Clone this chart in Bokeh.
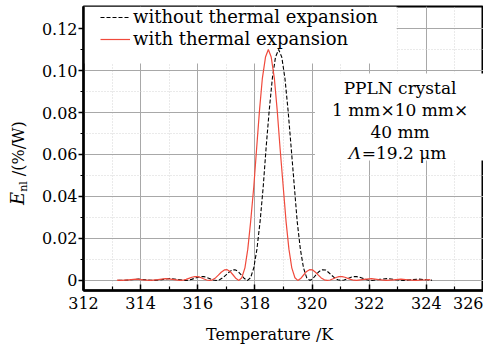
from bokeh.plotting import figure
from bokeh.models import (FixedTicker, Range1d, Legend, LegendItem, Label,
                          BoxAnnotation, CustomJSTickFormatter, Div)
from bokeh.layouts import row, column
from bokeh.embed import file_html
from bokeh.resources import INLINE

# ---------------- data ----------------
temp_with = [313.17, 313.32, 313.58, 313.84, 314.09, 314.35, 314.61, 314.87, 315.12, 315.38,
             315.48, 315.59, 315.69, 315.79, 315.90, 316.00, 316.10, 316.20, 316.31, 316.41,
             316.51, 316.62, 316.72, 316.82, 316.93, 317.03, 317.13, 317.23, 317.34, 317.44,
             317.54, 317.65, 317.75, 317.85, 317.96, 318.06, 318.16, 318.26, 318.37, 318.47,
             318.57, 318.68, 318.78, 318.88, 318.99, 319.09, 319.19, 319.29, 319.40, 319.50,
             319.60, 319.71, 319.81, 319.91, 320.02, 320.12, 320.22, 320.32, 320.43, 320.53,
             320.63, 320.74, 320.84, 320.94, 321.05, 321.15, 321.25, 321.35, 321.46, 321.56,
             321.82, 322.08, 322.33, 322.59, 322.85, 323.11, 323.36, 323.62, 323.88, 324.14]
eff_with = [0.0001, 0.0000, 0.0003, 0.0006, 0.0003, 0.0000, 0.0004, 0.0009, 0.0005, 0.0000,
            0.0001, 0.0005, 0.0010, 0.0015, 0.0018, 0.0018, 0.0014, 0.0008, 0.0002, 0.0000,
            0.0003, 0.0012, 0.0025, 0.0039, 0.0050, 0.0051, 0.0043, 0.0027, 0.0009, 0.0000,
            0.0013, 0.0060, 0.0149, 0.0280, 0.0446, 0.0630, 0.0810, 0.0963, 0.1064, 0.1100,
            0.1064, 0.0963, 0.0810, 0.0630, 0.0446, 0.0280, 0.0149, 0.0060, 0.0013, 0.0000,
            0.0009, 0.0027, 0.0043, 0.0051, 0.0050, 0.0039, 0.0025, 0.0012, 0.0003, 0.0000,
            0.0002, 0.0008, 0.0014, 0.0018, 0.0018, 0.0015, 0.0010, 0.0005, 0.0001, 0.0000,
            0.0005, 0.0009, 0.0004, 0.0000, 0.0003, 0.0006, 0.0003, 0.0000, 0.0002, 0.0004]

temp_without = [313.22, 313.38, 313.65, 313.93, 314.20, 314.47, 314.74, 315.02, 315.29, 315.56,
                315.67, 315.78, 315.89, 316.00, 316.11, 316.21, 316.32, 316.43, 316.54, 316.65,
                316.76, 316.87, 316.98, 317.09, 317.20, 317.30, 317.41, 317.52, 317.63, 317.74,
                317.85, 317.96, 318.07, 318.18, 318.29, 318.39, 318.50, 318.61, 318.72, 318.83,
                318.94, 319.05, 319.16, 319.27, 319.38, 319.48, 319.59, 319.70, 319.81, 319.92,
                320.03, 320.14, 320.25, 320.36, 320.47, 320.57, 320.68, 320.79, 320.90, 321.01,
                321.12, 321.23, 321.34, 321.45, 321.56, 321.66, 321.77, 321.88, 321.99, 322.10,
                322.37, 322.65, 322.92, 323.19, 323.46, 323.74, 324.01, 324.20]
eff_without = [0.0001, 0.0000, 0.0003, 0.0006, 0.0003, 0.0000, 0.0004, 0.0009, 0.0005, 0.0000,
               0.0001, 0.0005, 0.0010, 0.0015, 0.0018, 0.0018, 0.0014, 0.0008, 0.0002, 0.0000,
               0.0003, 0.0012, 0.0025, 0.0039, 0.0050, 0.0051, 0.0043, 0.0027, 0.0009, 0.0000,
               0.0013, 0.0060, 0.0149, 0.0280, 0.0446, 0.0630, 0.0810, 0.0963, 0.1064, 0.1100,
               0.1064, 0.0963, 0.0810, 0.0630, 0.0446, 0.0280, 0.0149, 0.0060, 0.0013, 0.0000,
               0.0009, 0.0027, 0.0043, 0.0051, 0.0050, 0.0039, 0.0025, 0.0012, 0.0003, 0.0000,
               0.0002, 0.0008, 0.0014, 0.0018, 0.0018, 0.0015, 0.0010, 0.0005, 0.0001, 0.0000,
               0.0005, 0.0009, 0.0004, 0.0000, 0.0003, 0.0006, 0.0003, 0.0001]

x_ticks = [312, 314, 316, 318, 320, 322, 324, 326]
x_minor = [313, 315, 317, 319, 321, 323, 325]
y_ticks = [0, 0.02, 0.04, 0.06, 0.08, 0.10, 0.12]
y_minor = [0.01, 0.03, 0.05, 0.07, 0.09, 0.11]

label_without = "without thermal expansion"
label_with = "with thermal expansion"
note_lines = ["PPLN crystal", "1 mm×10 mm×", "40 mm"]
note_lambda = "Λ"
note_lambda_rest = "=19.2 μm"
x_title = "Temperature /K"
y_title_main = "E"
y_title_sub = "nl"
y_title_unit = "/(%/W)"

FONT = "DejaVu Serif"
RED = "#f04a3c"
H1 = 319   # height of the plot row
H2 = 26    # height of the x-title strip

# ---------------- y-axis title (HTML, rotated) ----------------
ylab_html = (
    '<span style="display:inline-block; white-space:nowrap; line-height:1; '
    'transform-origin:0 0; transform:translate(9px, 205px) rotate(-90deg); '
    'font-family:\'DejaVu Serif\'; font-size:16px; color:black;">'
    '<i style="font-size:18px;">' + y_title_main + '</i>'
    '<sub style="font-size:11px; vertical-align:-3px;">' + y_title_sub + '</sub>'
    '&nbsp;' + y_title_unit + '</span>'
)
ylab = Div(text=ylab_html, width=30, height=H1, margin=0)

# ---------------- main figure ----------------
p = figure(width=453, height=H1, output_backend="svg", toolbar_location=None,
           x_range=Range1d(312, 326), y_range=Range1d(-0.0048, 0.1305),
           min_border_left=53, min_border_right=0, min_border_top=6, min_border_bottom=29)
p.background_fill_color = "white"
p.border_fill_color = "white"
p.outline_line_color = "black"
p.outline_line_width = 2

p.xaxis.ticker = FixedTicker(ticks=x_ticks, minor_ticks=x_minor)
p.yaxis.ticker = FixedTicker(ticks=y_ticks, minor_ticks=y_minor)
p.yaxis.formatter = CustomJSTickFormatter(code="return tick == 0 ? '0' : tick.toFixed(2);")

for ax in (p.xaxis[0], p.yaxis[0]):
    ax.axis_line_color = "black"
    ax.axis_line_width = 2.5
    ax.major_tick_line_color = "black"
    ax.minor_tick_line_color = "black"
    ax.major_tick_line_width = 1.5
    ax.minor_tick_line_width = 1.2
    ax.major_label_text_font = FONT
    ax.major_label_text_font_size = "16px"
    ax.major_label_text_color = "black"

p.xaxis.major_tick_in = 6
p.xaxis.major_tick_out = 0
p.xaxis.minor_tick_in = 4
p.xaxis.minor_tick_out = 0
p.xaxis.major_label_standoff = 6

p.yaxis.major_tick_in = 0
p.yaxis.major_tick_out = 5
p.yaxis.minor_tick_in = 0
p.yaxis.minor_tick_out = 3
p.yaxis.major_label_standoff = 1

for g in (p.xgrid[0], p.ygrid[0]):
    g.level = "image"
    g.grid_line_color = "#a8a8a8"
    g.grid_line_width = 1
    g.minor_grid_line_color = "#d4d4d4"
    g.minor_grid_line_dash = "1 2"
    g.minor_grid_line_width = 1

# white areas behind legend and note (hide the grid there)
p.add_layout(BoxAnnotation(right=322.96, bottom=0.1033, fill_color="white", fill_alpha=1,
                           line_alpha=0, level="underlay"))
p.add_layout(BoxAnnotation(left=320.10, bottom=0.0571, top=0.0986,
                           fill_color="white", fill_alpha=1, line_alpha=0, level="underlay"))

r_without = p.line(temp_without, eff_without, line_color="black", line_width=1.1,
                   line_dash="4 2")
r_with = p.line(temp_with, eff_with, line_color=RED, line_width=1.2)

legend = Legend(items=[LegendItem(label=label_without, renderers=[r_without]),
                       LegendItem(label=label_with, renderers=[r_with])],
                location=(17, 241), padding=0, margin=0, spacing=1,
                glyph_width=30, glyph_height=20, label_height=20, label_standoff=3,
                label_text_font=FONT, label_text_font_size="18px",
                label_text_color="black",
                background_fill_alpha=0, border_line_alpha=0)
p.add_layout(legend)

note_base = [0.0918, 0.0810, 0.0706]
for txt, yb in zip(note_lines, note_base):
    p.add_layout(Label(x=323.08, y=yb, text=txt, text_font=FONT, text_font_size="17px",
                       text_align="center", text_baseline="alphabetic", text_color="black"))
p.add_layout(Label(x=321.28, y=0.0606, text=note_lambda, text_font=FONT, text_font_size="17px",
                   text_font_style="italic", text_align="left", text_baseline="alphabetic",
                   text_color="black"))
p.add_layout(Label(x=321.74, y=0.0606, text=note_lambda_rest, text_font=FONT,
                   text_font_size="17px", text_align="left", text_baseline="alphabetic",
                   text_color="black"))

# ---------------- x-axis title strip ----------------
xt_html = ('<span style="position:relative; top:3px; white-space:nowrap;">'
           + x_title + '</span>')
xt = Div(text=xt_html, width=483, height=H2, margin=0,
         styles={"font-family": FONT, "font-size": "16px", "color": "black",
                 "line-height": "26px", "padding-left": "206px", "white-space": "nowrap"})

layout = column(row(ylab, p, spacing=0), xt, spacing=0)
open("out.html", "w").write(file_html(layout, INLINE))
